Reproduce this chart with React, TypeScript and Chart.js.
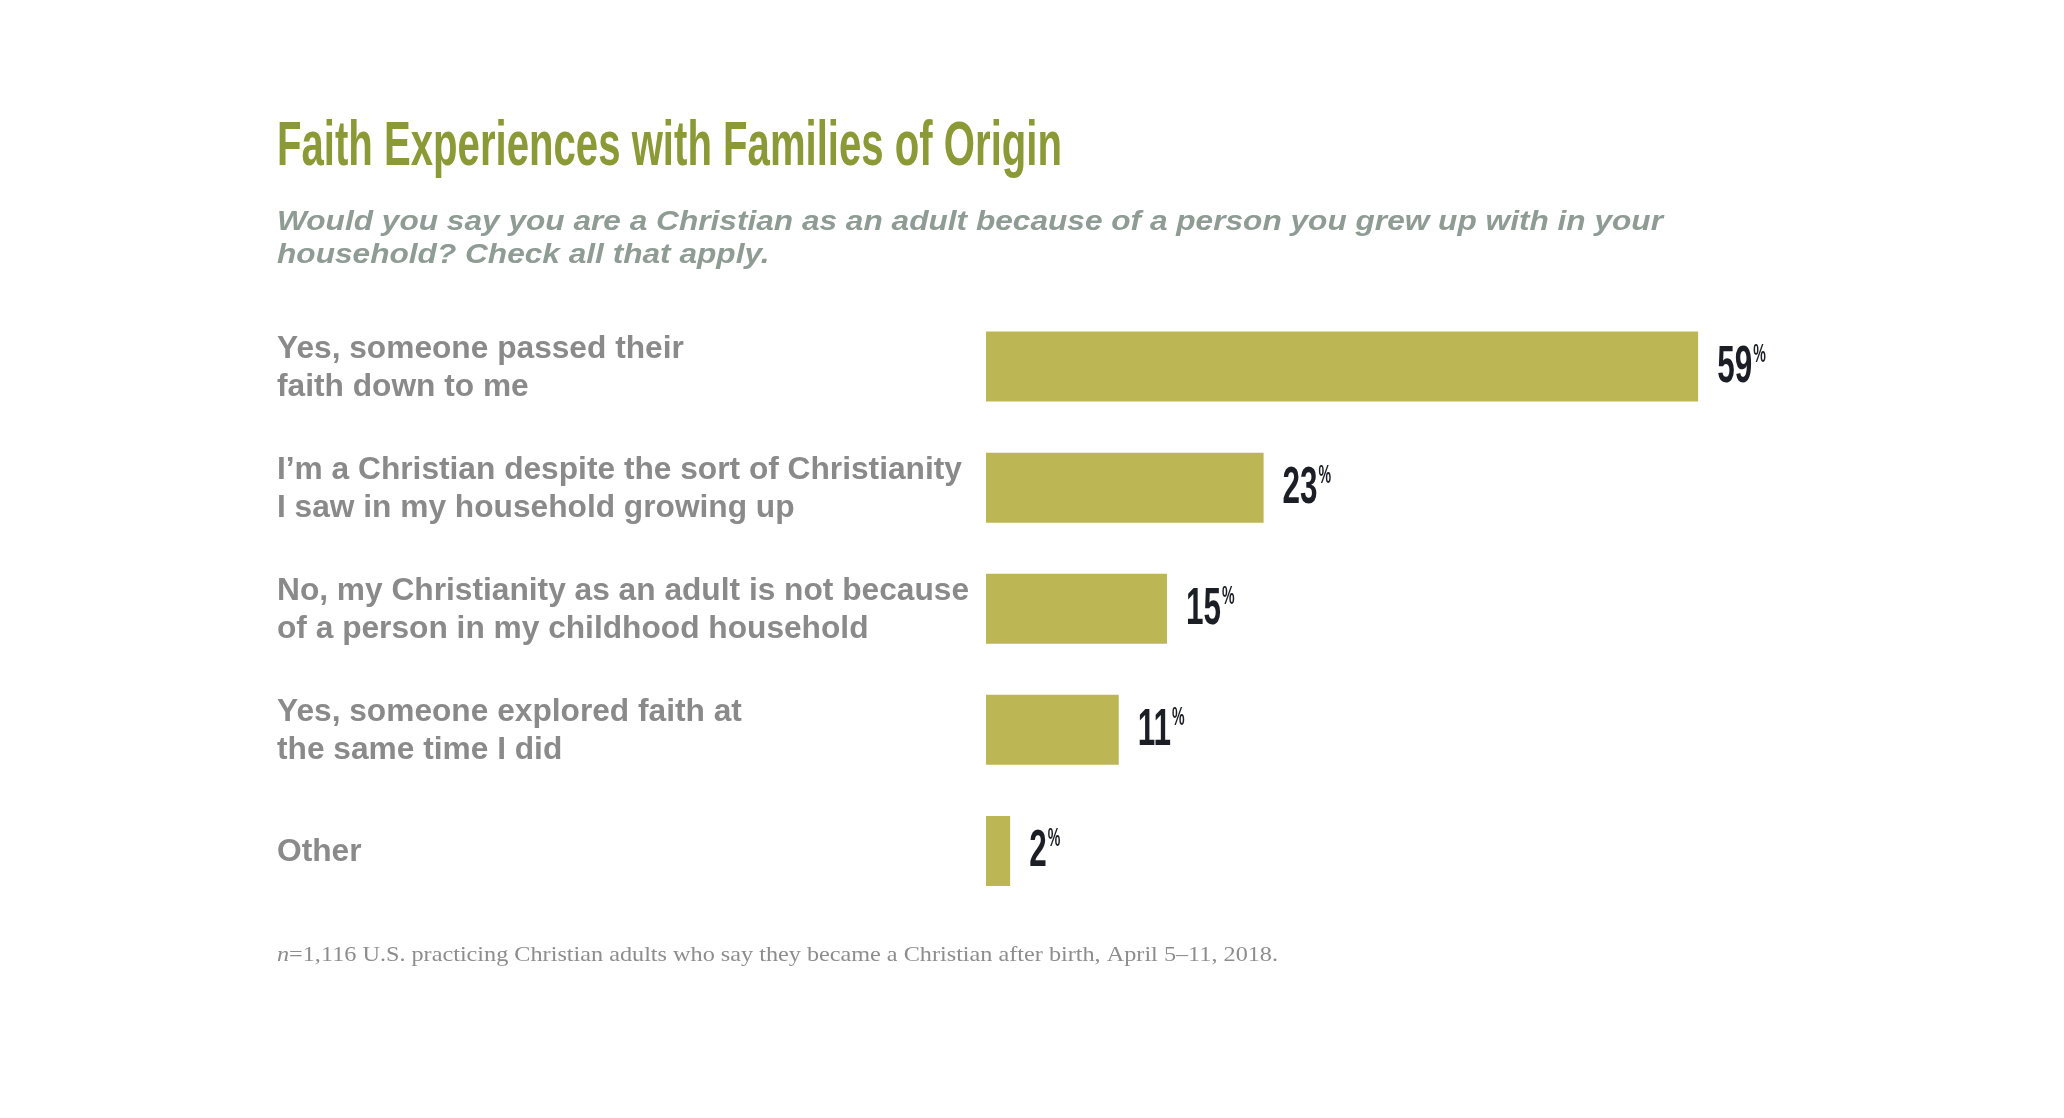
import React, { useEffect, useRef } from "react";
import { Chart, registerables } from "chart.js";

Chart.register(...registerables);

const TITLE = "Faith Experiences with Families of Origin";
const SUBTITLE_LINES = [
  "Would you say you are a Christian as an adult because of a person you grew up with in your",
  "household? Check all that apply.",
];
const CATEGORIES: string[][] = [
  ["Yes, someone passed their", "faith down to me"],
  ["I\u2019m a Christian despite the sort of Christianity", "I saw in my household growing up"],
  ["No, my Christianity as an adult is not because", "of a person in my childhood household"],
  ["Yes, someone explored faith at", "the same time I did"],
  ["Other"],
];
const VALUES = [59, 23, 15, 11, 2];
const FOOTNOTE_N = "n";
const FOOTNOTE_REST = "=1,116 U.S. practicing Christian adults who say they became a Christian after birth, April 5\u201311, 2018.";

const W = 2064;
const H = 1118;
const TEXT_LEFT = 277;

function drawScaled(ctx: CanvasRenderingContext2D, text: string, x: number, y: number, sx: number) {
  ctx.save();
  ctx.translate(x, y);
  ctx.scale(sx, 1);
  ctx.fillText(text, 0, 0);
  ctx.restore();
}

const textPlugin = {
  id: "textPlugin",
  afterDraw(chart: any) {
    const ctx: CanvasRenderingContext2D = chart.ctx;
    const xs = chart.scales.x;
    const ys = chart.scales.y;
    ctx.save();
    ctx.textAlign = "left";
    ctx.textBaseline = "alphabetic";

    // Title
    ctx.font = 'bold 63px "Liberation Sans Narrow", "Liberation Sans", Arial, sans-serif';
    ctx.fillStyle = "#8b9a36";
    const tw = ctx.measureText(TITLE).width;
    drawScaled(ctx, TITLE, TEXT_LEFT, 165, 785 / tw);

    // Subtitle
    ctx.font = 'italic bold 28px "Liberation Sans", Arial, sans-serif';
    ctx.fillStyle = "#8e9c94";
    const sw = ctx.measureText(SUBTITLE_LINES[0]).width;
    const ssx = 1386 / sw;
    SUBTITLE_LINES.forEach((l, i) => drawScaled(ctx, l, TEXT_LEFT, 230 + i * 33, ssx));

    // Category labels
    ctx.font = 'bold 31px "Liberation Sans", Arial, sans-serif';
    ctx.fillStyle = "#8a8a8a";
    let maxW = 0;
    CATEGORIES.forEach((lines) => lines.forEach((l) => { maxW = Math.max(maxW, ctx.measureText(l).width); }));
    const lsx = 692 / maxW;
    CATEGORIES.forEach((lines, idx) => {
      const cy = ys.getPixelForValue(idx);
      const n = lines.length;
      lines.forEach((l, i) => {
        const by = cy + 10 + 38 * (i - (n - 1) / 2);
        drawScaled(ctx, l, TEXT_LEFT, by, lsx);
      });
    });

    // Value labels
    ctx.fillStyle = "#1b1e25";
    ctx.font = 'bold 52px "Liberation Sans Narrow", "Liberation Sans", Arial, sans-serif';
    const dw = ctx.measureText("59").width;
    const dsx = 35 / dw;
    VALUES.forEach((v, idx) => {
      const cy = ys.getPixelForValue(idx);
      const x0 = xs.getPixelForValue(v) + 19;
      ctx.font = 'bold 52px "Liberation Sans Narrow", "Liberation Sans", Arial, sans-serif';
      const txt = String(v);
      const w = ctx.measureText(txt).width * dsx;
      drawScaled(ctx, txt, x0, cy + 15, dsx);
      ctx.font = 'bold 26px "Liberation Sans Narrow", "Liberation Sans", Arial, sans-serif';
      drawScaled(ctx, "%", x0 + w + 1, cy - 5, dsx * 0.9);
    });

    // Footnote
    ctx.fillStyle = "#8d8d8d";
    ctx.font = 'italic 21px "Liberation Serif", "DejaVu Serif", serif';
    const nw = ctx.measureText(FOOTNOTE_N).width;
    ctx.font = '21px "Liberation Serif", "DejaVu Serif", serif';
    const rw = ctx.measureText(FOOTNOTE_REST).width;
    const fsx = 1001 / (nw + rw);
    ctx.font = 'italic 21px "Liberation Serif", "DejaVu Serif", serif';
    drawScaled(ctx, FOOTNOTE_N, TEXT_LEFT, 961, fsx);
    ctx.font = '21px "Liberation Serif", "DejaVu Serif", serif';
    drawScaled(ctx, FOOTNOTE_REST, TEXT_LEFT + nw * fsx, 961, fsx);

    ctx.restore();
  },
};

export default function App() {
  const ref = useRef<HTMLCanvasElement | null>(null);
  useEffect(() => {
    if (!ref.current) return;
    const pxPerUnit = 12.07;
    const xMax = 80;
    const left = 986;
    const right = W - (left + pxPerUnit * xMax);
    const chart = new Chart(ref.current, {
      type: "bar",
      data: {
        labels: CATEGORIES.map((c) => c.join(" ")),
        datasets: [
          {
            data: VALUES,
            backgroundColor: "#bdb654",
            borderWidth: 0,
            barPercentage: 0.578,
            categoryPercentage: 1,
          },
        ],
      },
      options: {
        indexAxis: "y",
        responsive: false,
        animation: false,
        events: [],
        layout: { padding: { left, right, top: 306, bottom: 206.5 } },
        plugins: {
          legend: { display: false },
          tooltip: { enabled: false },
          title: { display: false },
        },
        scales: {
          x: { display: false, min: 0, max: xMax },
          y: { display: false, offset: true },
        },
      },
      plugins: [textPlugin],
    });
    return () => chart.destroy();
  }, []);
  return (
    <div style={{ position: "fixed", left: 0, top: 0, width: W, height: H, background: "#ffffff" }}>
      <canvas ref={ref} width={W} height={H} style={{ display: "block", width: W, height: H }} />
    </div>
  );
}
